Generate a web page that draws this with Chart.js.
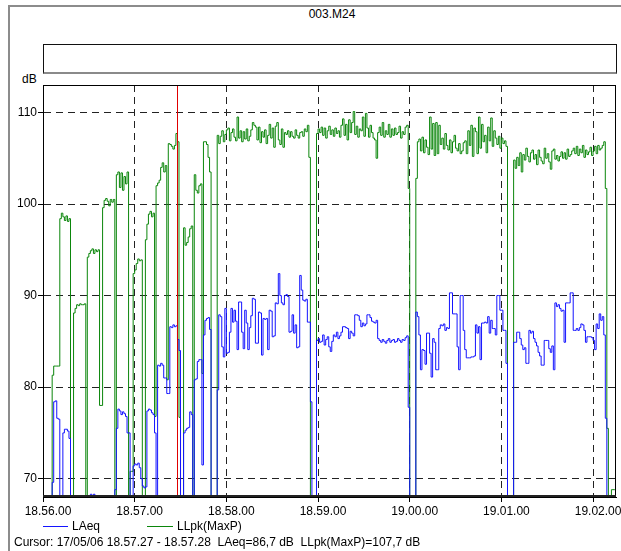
<!DOCTYPE html>
<html>
<head>
<meta charset="utf-8">
<title>003.M24</title>
<script src="https://cdn.jsdelivr.net/npm/chart.js@4.4.1/dist/chart.umd.min.js"></script>
<style>
  html, body { margin: 0; padding: 0; background: #fff; }
  body { width: 621px; height: 551px; position: relative; overflow: hidden;
         font-family: "Liberation Sans", Arial, sans-serif; font-size: 12px; color: #000; }
  #frame { position: absolute; left: 8px; top: 5px; right: 0; bottom: 0;
           border-left: 2px solid #8c8c8c; border-top: 2px solid #8c8c8c; }
  #title { position: absolute; left: 43px; width: 578px; top: 7px; line-height: 14px; text-align: center; }
  #infoBox { position: absolute; left: 43px; top: 44px; width: 574px; height: 30px; box-sizing: border-box;
             border: 1px solid #111; border-bottom: 2px solid #8a8a8a; }
  #unit { position: absolute; left: 22px; top: 72px; line-height: 14px; }
  #chart { position: absolute; left: 0; top: 0; }
  .legendLine { position: absolute; height: 1px; top: 526px; }
  .legendText { position: absolute; top: 519px; line-height: 14px; }
  #cursorInfo { position: absolute; left: 14px; top: 535px; line-height: 14px; white-space: pre; }
</style>
</head>
<body>
<div id="frame"></div>
<div id="title">003.M24</div>
<div id="infoBox"></div>
<div id="unit">dB</div>
<canvas id="chart" width="621" height="551"></canvas>
<div class="legendLine" style="left:43px;width:25px;background:#1414ff"></div>
<div class="legendText" style="left:72px">LAeq</div>
<div class="legendLine" style="left:147px;width:26px;background:#0b860b"></div>
<div class="legendText" style="left:177px">LLpk(MaxP)</div>
<div id="cursorInfo"></div>
<script>
// One value per second from 18.56.00; values under the axis floor sit off-scale.
const laeq = [
  60, 60, 60, 60, 60, 60, 69.6, 78.4, 78.5, 76.6,
  76.5, 60, 60, 75.0, 75.4, 75.4, 75.2, 74.4, 60, 60,
  60, 60, 60, 60, 60, 60, 60, 60, 60, 60,
  60, 68.3, 68.1, 68.3, 68.1, 60, 60, 60, 60, 60,
  60, 60, 60, 60, 60, 60, 60, 68.8, 75.5, 77.6,
  77.4, 77.0, 77.3, 77.1, 76.8, 75.0, 75.0, 60, 60, 71.4,
  71.6, 71.5, 71.7, 71.2, 70.0, 69.2, 69.0, 69.1, 77.4, 77.6,
  77.5, 77.2, 77.0, 75.0, 60, 82.4, 82.3, 82.6, 82.4, 81.0,
  81.0, 79.3, 79.3, 86.6, 86.5, 86.8, 86.6, 86.7, 85.2, 84.0,
  60, 60, 75.0, 75.3, 75.5, 75.6, 77.3, 77.0, 60, 80.8,
  80.9, 82.8, 83.0, 83.0, 71.5, 85.7, 87.3, 87.5, 87.6, 86.3,
  60, 60, 60, 60, 79.7, 87.9, 87.7, 84.4, 83.3, 88.6,
  83.7, 83.8, 86.0, 88.6, 87.1, 88.4, 87.2, 84.1, 89.3, 89.3,
  86.0, 84.2, 88.4, 87.0, 84.1, 86.5, 87.8, 89.7, 89.6, 84.8,
  84.8, 88.2, 88.1, 83.5, 87.5, 87.4, 87.5, 84.1, 88.4, 88.3,
  85.5, 85.6, 89.2, 89.1, 92.4, 90.0, 89.2, 89.0, 90.0, 90.1,
  89.9, 86.0, 86.1, 87.9, 85.9, 86.8, 84.3, 84.4, 92.2, 90.6,
  89.5, 89.4, 89.6, 87.1, 87.1, 78.4, 60, 60, 60, 85.1,
  85.3, 84.9, 85.0, 85.7, 84.6, 85.2, 85.5, 84.4, 83.9, 85.0,
  85.7, 85.5, 86.0, 85.3, 85.6, 86.0, 86.6, 86.6, 86.5, 86.4,
  85.3, 86.1, 85.9, 85.6, 87.9, 87.9, 87.8, 87.3, 86.6, 87.0,
  86.7, 86.9, 87.9, 87.9, 87.6, 87.2, 87.1, 87.0, 87.3, 85.3,
  85.1, 84.9, 85.2, 85.0, 84.8, 85.1, 85.3, 84.9, 85.1, 85.2,
  84.9, 85.0, 85.3, 85.1, 84.9, 85.2, 85.1, 85.4, 85.6, 77.8,
  60, 60, 60, 60, 88.2, 87.7, 85.7, 81.9, 84.1, 84.0,
  82.5, 85.9, 85.9, 83.7, 81.1, 85.3, 84.9, 81.9, 81.9, 86.4,
  86.8, 86.7, 86.9, 86.2, 86.5, 86.4, 90.3, 90.3, 88.0, 88.0,
  88.0, 84.4, 81.9, 90.0, 90.0, 86.2, 84.1, 83.2, 83.2, 83.2,
  83.3, 83.3, 83.4, 86.8, 85.9, 86.6, 83.0, 87.0, 87.0, 87.1,
  87.0, 87.7, 85.9, 87.3, 86.4, 86.4, 85.7, 90.0, 90.0, 88.4,
  88.4, 86.2, 86.2, 82.6, 60, 60, 60, 60, 84.9, 84.9,
  86.0, 86.0, 85.3, 84.6, 84.1, 84.3, 82.6, 82.6, 86.2, 85.9,
  86.1, 85.3, 84.9, 84.5, 83.8, 83.4, 82.4, 82.4, 85.1, 85.1,
  85.1, 84.2, 83.8, 84.5, 81.9, 89.2, 88.8, 89.0, 88.6, 88.3,
  88.4, 84.9, 89.2, 89.2, 89.2, 90.3, 90.3, 86.2, 86.2, 86.4,
  86.2, 86.5, 86.9, 86.8, 86.2, 84.9, 85.5, 85.5, 85.5, 85.4,
  85.1, 84.1, 86.9, 86.4, 88.0, 87.3, 87.7, 85.7, 76.6, 60,
  60, 60, 60, 60, 60, 60
];

const llpk = [
  60, 60, 60, 60, 60, 60, 81.3, 82.3, 82.3, 82.3,
  82.3, 98.4, 99.0, 98.6, 98.2, 98.7, 98.1, 98.4, 60, 60,
  88.1, 88.6, 89.0, 88.9, 89.1, 89.0, 89.0, 89.1, 60, 94.2,
  94.6, 94.9, 95.1, 94.6, 95.0, 94.8, 95.0, 78.0, 78.0, 99.6,
  100.4, 100.6, 100.3, 99.8, 100.5, 100.2, 100.5, 60, 103.2, 103.5,
  101.8, 103.4, 101.5, 103.0, 102.2, 103.5, 60, 70.8, 70.8, 92.4,
  92.8, 93.5, 94.0, 93.8, 93.9, 60, 60, 96.1, 97.8, 98.9,
  99.2, 98.6, 99.0, 76.8, 102.0, 102.3, 102.6, 104.0, 104.5, 103.5,
  104.2, 80.8, 106.6, 106.5, 106.3, 106.0, 106.4, 107.7, 106.8, 76.7,
  60, 60, 97.4, 95.5, 95.8, 96.4, 97.3, 97.6, 60, 103.2,
  101.5, 101.2, 102.0, 102.2, 81.5, 106.8, 106.8, 106.5, 105.1, 103.5,
  60, 60, 60, 60, 107.5, 106.6, 107.4, 108.0, 106.8, 107.6,
  108.1, 108.3, 106.9, 107.8, 108.2, 107.3, 106.9, 109.5, 107.2, 108.0,
  106.8, 107.9, 107.1, 108.2, 106.9, 107.4, 108.1, 108.9, 108.6, 108.4,
  107.0, 108.4, 106.7, 107.9, 107.3, 108.1, 106.6, 107.5, 108.7, 107.2,
  108.3, 106.2, 108.5, 108.9, 107.0, 106.5, 108.2, 106.2, 107.8, 107.6,
  108.0, 107.3, 107.9, 107.4, 107.2, 108.1, 107.5, 107.2, 107.8, 107.9,
  107.4, 108.2, 107.9, 108.6, 105.1, 60, 60, 60, 60, 107.7,
  108.2, 107.8, 108.4, 107.5, 108.3, 107.2, 108.0, 108.5, 107.6, 108.1,
  107.4, 108.3, 107.7, 108.0, 107.3, 108.6, 109.3, 107.5, 108.7, 107.0,
  109.2, 107.8, 108.9, 110.1, 107.6, 108.5, 107.3, 108.2, 108.0, 109.5,
  107.4, 109.9, 108.3, 107.3, 108.6, 107.8, 107.2, 107.0, 105.0, 107.8,
  108.4, 107.5, 108.9, 107.3, 108.0, 107.6, 108.7, 107.3, 108.2, 107.5,
  108.3, 107.6, 107.8, 108.5, 107.2, 107.9, 107.6, 108.4, 108.6, 101.7,
  60, 60, 60, 60, 102.8, 106.8, 107.1, 105.8, 107.3, 105.6,
  107.0, 106.2, 105.4, 109.5, 106.0, 108.8, 105.3, 108.9, 105.5, 108.6,
  106.5, 107.2, 106.0, 107.7, 106.4, 105.9, 107.0, 105.6, 106.8, 107.5,
  106.1, 105.8, 106.6, 105.5, 105.8, 106.7, 106.9, 105.5, 108.0, 106.4,
  108.6, 105.2, 108.3, 107.9, 105.5, 109.5, 106.1, 108.7, 106.8, 107.5,
  105.6, 108.4, 106.9, 109.4, 106.3, 108.0, 107.2, 106.5, 107.4, 106.1,
  107.2, 106.6, 106.9, 106.3, 60, 60, 60, 60, 104.8, 103.9,
  105.1, 104.2, 105.6, 103.5, 105.4, 104.8, 106.1, 105.2, 104.6, 105.6,
  105.9, 104.9, 105.4, 104.3, 105.9, 105.1, 104.7, 104.4, 106.1, 105.0,
  105.5, 104.6, 103.8, 105.8, 106.0, 104.9, 105.3, 104.7, 105.2, 105.7,
  105.0, 105.6, 104.9, 106.0, 105.2, 105.4, 105.8, 106.1, 105.5, 106.3,
  105.3, 106.0, 105.6, 106.4, 105.1, 105.9, 105.4, 105.7, 106.2, 105.3,
  105.8, 106.3, 105.5, 106.4, 105.9, 106.1, 106.4, 106.8, 101.7, 75.5,
  60, 60, 68.8, 68.8, 68.8, 60
];

const tickSeconds = [0, 60, 120, 180, 240, 300, 360];
const timeLabels = ['18.56.00', '18.57.00', '18.58.00', '18.59.00', '19.00.00', '19.01.00', '19.02.00'];
const dbTicks = [70, 80, 90, 100, 110];
const cursorSecond = 87;
const cursorDate = '17/05/06';
const startClock = [18, 56, 0];

const points = arr => arr.map((v, i) => ({ x: i, y: v }));

function clock(sec) {
  let t = startClock[0] * 3600 + startClock[1] * 60 + startClock[2] + sec;
  const h = Math.floor(t / 3600); t -= h * 3600;
  const m = Math.floor(t / 60); const s = t - m * 60;
  const p = n => String(n).padStart(2, '0');
  return p(h) + '.' + p(m) + '.' + p(s);
}
const dec = v => v.toFixed(1).replace('.', ',');

document.getElementById('cursorInfo').textContent =
  'Cursor: ' + cursorDate + ' ' + clock(cursorSecond) + ' - ' + clock(cursorSecond + 1) +
  '  LAeq=' + dec(laeq[cursorSecond]) + ' dB  LLpk(MaxP)=' + dec(llpk[cursorSecond]) + ' dB';

// Plot frame and the red cursor marker.
const framePlugin = {
  id: 'framePlugin',
  afterDatasetsDraw(chart) {
    const { ctx, chartArea: a, scales: { x } } = chart;
    ctx.save();
    const cx = Math.round(x.getPixelForValue(cursorSecond + 0.5)) + 0.5;
    ctx.strokeStyle = '#e00000';
    ctx.lineWidth = 1;
    ctx.beginPath();
    ctx.moveTo(cx, a.top);
    ctx.lineTo(cx, a.bottom);
    ctx.stroke();
    ctx.strokeStyle = '#000';
    ctx.strokeRect(a.left + 0.5, a.top + 0.5, a.right - a.left - 1, a.bottom - a.top - 1);
    ctx.strokeStyle = '#222';
    ctx.lineWidth = 2;
    ctx.beginPath();
    ctx.moveTo(a.left, a.bottom - 1);
    ctx.lineTo(a.right, a.bottom - 1);
    ctx.stroke();
    ctx.restore();
  }
};

Chart.defaults.font.family = '"Liberation Sans", Arial, sans-serif';
Chart.defaults.font.size = 12;
Chart.defaults.color = '#000';

new Chart(document.getElementById('chart'), {
  type: 'line',
  data: {
    datasets: [
      { label: 'LAeq', data: points(laeq), borderColor: '#1414ff', borderWidth: 1,
        stepped: true, pointRadius: 0, fill: false },
      { label: 'LLpk(MaxP)', data: points(llpk), borderColor: '#0b860b', borderWidth: 1,
        stepped: true, pointRadius: 0, fill: false }
    ]
  },
  options: {
    responsive: false,
    animation: false,
    devicePixelRatio: 1,
    layout: { padding: { left: 0, top: 85, right: 5, bottom: 0 } },
    plugins: { legend: { display: false }, tooltip: { enabled: false }, title: { display: false } },
    scales: {
      x: {
        type: 'linear', min: 0, max: 375,
        afterBuildTicks: s => { s.ticks = tickSeconds.map(v => ({ value: v })); },
        afterFit: s => { s.height = 54; s.paddingLeft = 0; s.paddingRight = 0; },
        ticks: {
          autoSkip: false, maxRotation: 0, padding: 2, labelOffset: 5,
          callback: v => timeLabels[tickSeconds.indexOf(v)]
        },
        grid: { color: '#222', lineWidth: 1, tickLength: 5, tickColor: '#000', drawTicks: true },
        border: { display: true, color: '#000', width: 1, dash: [7, 5] }
      },
      y: {
        type: 'linear', min: 68, max: 113,
        afterBuildTicks: s => { s.ticks = dbTicks.map(v => ({ value: v })); },
        afterFit: s => { s.width = 43; s.paddingTop = 0; s.paddingBottom = 0; },
        ticks: { padding: 1 },
        grid: { color: '#222', lineWidth: 1, tickLength: 5, tickColor: '#000', drawTicks: true },
        border: { display: true, color: '#000', width: 1, dash: [7, 5] }
      }
    }
  },
  plugins: [framePlugin]
});
</script>
</body>
</html>
